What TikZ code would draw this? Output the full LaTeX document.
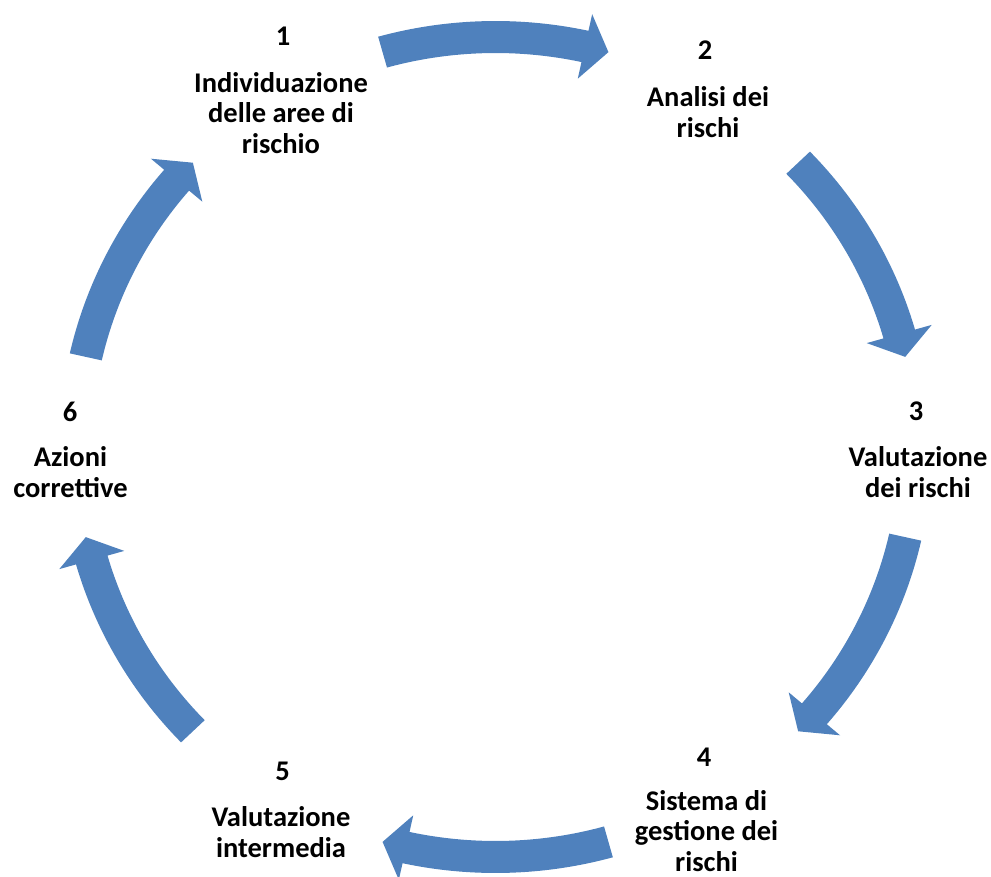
\documentclass[tikz,border=0pt]{standalone}
\usepackage{fontspec}
\setmainfont{Carlito}
\definecolor{arrowblue}{HTML}{4F81BD}
\tikzset{
  cyclearrow/.style={fill=arrowblue, draw=none},
  numlabel/.style={font=\fontsize{28.5}{30}\selectfont\bfseries, inner sep=0pt},
  steplabel/.style={font=\fontsize{28.5}{30.5}\selectfont\bfseries, align=center, inner sep=0pt},
}
% block arrow along the cycle, centred on angle #1, running clockwise
\newcommand{\cyclearrowat}[1]{%
  \fill[cyclearrow] ({#1+15.6}:426) arc[start angle={#1+15.6}, end angle={#1-12.3}, radius=426]
    -- ({#1-12.3}:443) -- ({#1-15.6}:410) -- ({#1-12.3}:377) -- ({#1-12.3}:394)
    arc[start angle={#1-12.3}, end angle={#1+15.6}, radius=394] -- cycle;}
\begin{document}
\begin{tikzpicture}[x=1pt, y=-1pt]
  \useasboundingbox (0,0) rectangle (991,877);
  \begin{scope}[shift={(495.5,447)}, xscale=1.0244, yscale=-1]
    \cyclearrowat{90}
    \cyclearrowat{28.3}
    \cyclearrowat{-28.3}
    \cyclearrowat{-90}
    \cyclearrowat{-151.7}
    \cyclearrowat{151.7}
  \end{scope}
  \node[numlabel] (n1) at (283,36) {1};
  \node[steplabel] (t1) at (281,113) {Individuazione\\delle aree di\\rischio};
  \node[numlabel] (n2) at (705,50) {2};
  \node[steplabel] (t2) at (708,112) {Analisi dei\\rischi};
  \node[numlabel] (n3) at (916,411) {3};
  \node[steplabel] (t3) at (918,472) {Valutazione\\dei rischi};
  \node[numlabel] (n4) at (704,757) {4};
  \node[steplabel] (t4) at (706.5,831) {Sistema di\\gestione dei\\rischi};
  \node[numlabel] (n5) at (282.7,771.7) {5};
  \node[steplabel] (t5) at (281,832) {Valutazione\\intermedia};
  \node[numlabel] (n6) at (70,411.7) {6};
  \node[steplabel] (t6) at (70.5,472) {Azioni\\correttive};
\end{tikzpicture}
\end{document}
